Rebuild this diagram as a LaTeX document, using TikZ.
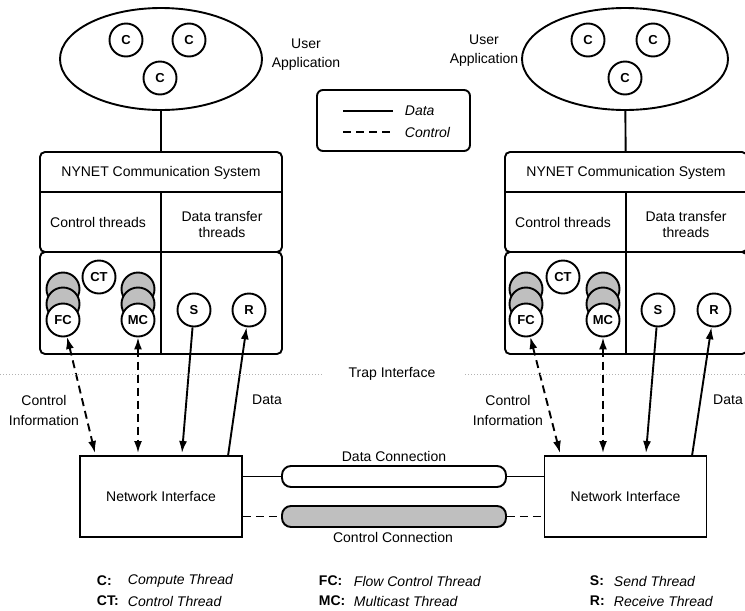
\documentclass[tikz,border=0pt]{standalone}
\usepackage{fontspec}
\setmainfont{Liberation Sans}
\usetikzlibrary{arrows.meta,shapes.geometric}

\begin{document}
\begin{tikzpicture}[x=1pt,y=-1pt,>={Latex[length=12pt,width=8pt]},
                    font=\fontsize{14}{16}\selectfont,line width=1.9pt,
                    every node/.style={inner sep=1pt},
                    thr/.style={circle,draw,fill=white,minimum size=33pt,inner sep=0pt,
                                font=\fontsize{13}{15}\selectfont\bfseries},
                    shthr/.style={thr,fill=black!25},
                    panel/.style={draw,rounded corners=5pt,minimum width=242pt},
                    ctl/.style={dash pattern=on 8pt off 5pt},
                    pipe/.style={draw,rounded corners=9pt,minimum width=224pt,minimum height=21pt},
                    trapline/.style={gray!60,line width=0.6pt,dash pattern=on 0.6pt off 2.4pt},
                    key/.style={anchor=west,font=\fontsize{14}{16}\selectfont\bfseries},
                    keytxt/.style={anchor=west,font=\fontsize{14}{16}\selectfont\itshape}]
  \useasboundingbox (0,0) rectangle (745,611);
  \node[draw,ellipse,minimum width=202pt,minimum height=102pt] (appL) at (161,59) {};
  \node[thr] (c1L) at (126,40) {C};
  \node[thr] (c2L) at (189,40) {C};
  \node[thr] (c3L) at (160,78) {C};
  \node[align=center] (userL) at (306,55) {User\\[3pt]Application};
  \node[panel,minimum height=100pt] (ncsL) at (161,202) {};
  \draw (40,192) -- (282,192);
  \draw (161,192) -- (161,252);
  \node (titleL) at (161,173) {NYNET Communication System};
  \node (ctlL) at (98,222) {Control threads};
  \node[align=center] (dtL) at (222,224) {Data transfer\\threads};
  \draw (appL) -- (ncsL);
  \node[panel,minimum height=102pt] (thrL) at (161,303) {};
  \draw (161,252) -- (161,354);
  \node[shthr] (fcaL) at (63,289) {};
  \node[shthr] (fcbL) at (63,304) {};
  \node[thr] (fcL) at (63,320) {FC};
  \node[thr] (ctL) at (99,277) {CT};
  \node[shthr] (mcaL) at (138,289) {};
  \node[shthr] (mcbL) at (138,304) {};
  \node[thr] (mcL) at (138,320) {MC};
  \node[thr] (sL) at (194,310) {S};
  \node[thr] (rL) at (249,310) {R};
  \node[draw,minimum width=162pt,minimum height=81pt] (niL) at (161,496.5) {Network Interface};
  \coordinate (fcinL) at (95,453);
  \coordinate (mcinL) at (138,453);
  \coordinate (sinL) at (182,453);
  \coordinate (routL) at (228,456);
  \draw[<->,ctl] (fcL) -- (fcinL);
  \draw[<->,ctl] (mcL) -- (mcinL);
  \draw[->] (sL) -- (sinL);
  \draw[->] (routL) -- (rL);
  \node[align=center] (ciL) at (44,410) {Control\\[4pt]Information};
  \node (dataL) at (267,400) {Data};
  \node[draw,ellipse,minimum width=206pt,minimum height=102pt] (appR) at (625,59) {};
  \node[thr] (c1R) at (588,40) {C};
  \node[thr] (c2R) at (653,40) {C};
  \node[thr] (c3R) at (625,78) {C};
  \node[align=center] (userR) at (484,51) {User\\[3pt]Application};
  \node[panel,minimum height=100pt] (ncsR) at (626,202) {};
  \draw (505,192) -- (747,192);
  \draw (626,192) -- (626,252);
  \node (titleR) at (626,173) {NYNET Communication System};
  \node (ctlR) at (563,222) {Control threads};
  \node[align=center] (dtR) at (686,224) {Data transfer\\threads};
  \draw (appR) -- (ncsR);
  \node[panel,minimum height=102pt] (thrR) at (626,303) {};
  \draw (626,252) -- (626,354);
  \node[shthr] (fcaR) at (526,289) {};
  \node[shthr] (fcbR) at (526,304) {};
  \node[thr] (fcR) at (526,320) {FC};
  \node[thr] (ctR) at (563,277) {CT};
  \node[shthr] (mcaR) at (603,289) {};
  \node[shthr] (mcbR) at (603,304) {};
  \node[thr] (mcR) at (603,320) {MC};
  \node[thr] (sR) at (658,310) {S};
  \node[thr] (rR) at (714,310) {R};
  \node[draw,minimum width=162pt,minimum height=81pt] (niR) at (625.5,496.5) {Network Interface};
  \coordinate (fcinR) at (560,453);
  \coordinate (mcinR) at (603,453);
  \coordinate (sinR) at (646,453);
  \coordinate (routR) at (692,456);
  \draw[<->,ctl] (fcR) -- (fcinR);
  \draw[<->,ctl] (mcR) -- (mcinR);
  \draw[->] (sR) -- (sinR);
  \draw[->] (routR) -- (rR);
  \node[align=center] (ciR) at (508,410) {Control\\[4pt]Information};
  \node (dataR) at (728,400) {Data};
  \node (trap) at (392,374) {Trap Interface};
  \draw[trapline] (0,374) -- (323,374);
  \draw[trapline] (465,374) -- (745,374);
  \node[pipe,fill=white] (dpipe) at (394,476.5) {};
  \node[pipe,fill=black!25] (cpipe) at (394,516.5) {};
  \draw (niL.east |- dpipe.west) -- (dpipe.west);
  \draw (dpipe.east) -- (niR.west |- dpipe.east);
  \draw[ctl] (niL.east |- cpipe.west) -- (cpipe.west);
  \draw[ctl] (cpipe.east) -- (niR.west |- cpipe.east);
  \node (dclab) at (394,456) {Data Connection};
  \node (cclab) at (393,537) {Control Connection};
  \node[draw,rounded corners=6pt,minimum width=153pt,minimum height=61pt] (legend) at (393.5,120.5) {};
  \draw (343,111) -- (393,111);
  \node[keytxt] (ldata) at (403,111) {Data};
  \draw[ctl] (343,132) -- (393,132);
  \node[keytxt] (lctl) at (403,132) {Control};
  \node[key] (kc) at (95,581) {C:};
  \node[keytxt] (tc) at (126,581) {Compute Thread};
  \node[key] (kct) at (95,601) {CT:};
  \node[keytxt] (tct) at (126,601) {Control Thread};
  \node[key] (kfc) at (317,581) {FC:};
  \node[keytxt] (tfc) at (352,581) {Flow Control Thread};
  \node[key] (kmc) at (317,601) {MC:};
  \node[keytxt] (tmc) at (352,601) {Multicast Thread};
  \node[key] (ks) at (588,581) {S:};
  \node[keytxt] (ts) at (612,581) {Send Thread};
  \node[key] (kr) at (588,601) {R:};
  \node[keytxt] (tr) at (612,601) {Receive Thread};
\end{tikzpicture}
\end{document}
